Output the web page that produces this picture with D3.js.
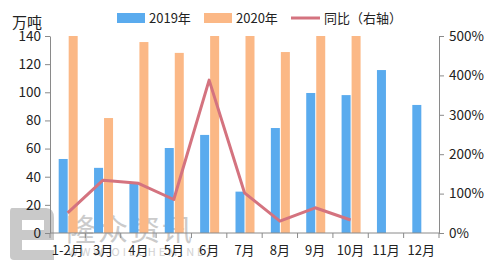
<!DOCTYPE html>
<html>
<head>
<meta charset="utf-8">
<script src="https://cdn.jsdelivr.net/npm/d3@7"></script>
<style>
  body { margin: 0; background: #fff; }
  svg text { font-family: "Noto Sans CJK SC", "Noto Sans", sans-serif; fill: #222; }
  .axis path, .axis line { stroke: #8a8a8a; }
</style>
</head>
<body>
<div id="chart"></div>
<script>
// data
const months = ["1-2月", "3月", "4月", "5月", "6月", "7月", "8月", "9月", "10月", "11月", "12月"];
const y2019 = [52.6, 46.3, 35.4, 60.4, 69.7, 29.4, 74.6, 99.5, 98, 115.8, 91];
const y2020 = [150, 81.7, 135.7, 128, 150, 150, 128.6, 150, 150, null, null];
const yoy = [51, 134, 126, 85, 388, 102, 30, 64, 33, null, null];
const leftTicks = [0, 20, 40, 60, 80, 100, 120, 140];
const rightTicks = [0, 100, 200, 300, 400, 500];

const W = 492, H = 265;
const margin = { top: 36, right: 53, bottom: 32, left: 50 };
const width = W - margin.left - margin.right;
const height = H - margin.top - margin.bottom;

const svg = d3.select("#chart").append("svg")
    .attr("width", W)
    .attr("height", H);

// watermark (sits behind the chart)
const wm = svg.append("g").attr("fill", "#c9c9c9");
wm.append("path")
    .attr("d", "M12,208 Q10,208 10,212 V256 Q10,260 14,260 H54 V250 H22 V240 H54 V218 Q54,208 46,208 Z M22,220 H44 V230 H22 Z");
wm.append("text")
    .attr("x", 66).attr("y", 240)
    .style("font-size", "30px")
    .style("fill", "#cbcbcb")
    .style("letter-spacing", "2px")
    .text("隆众资讯");
wm.append("text")
    .attr("x", 68).attr("y", 256)
    .style("font-size", "11px")
    .style("fill", "#d2d2d2")
    .style("letter-spacing", "3px")
    .text("WWW.OILCHEM.NET");

const g = svg.append("g")
    .attr("transform", `translate(${margin.left},${margin.top})`);

// scales
const x = d3.scaleBand().domain(months).range([0, width]);
const xSub = d3.scaleBand().domain(["2019", "2020"]).range([-9, 10]).paddingInner(0.1);
const yL = d3.scaleLinear().domain([0, 140]).range([height, 0]);
const yR = d3.scaleLinear().domain([0, 500]).range([height, 0]);

const colors = { "2019": "#5aabee", "2020": "#fbb886", line: "#d4737f" };

g.append("clipPath").attr("id", "plotclip")
    .append("rect").attr("x", 0).attr("y", 0).attr("width", width).attr("height", height);

const bars = g.append("g").attr("clip-path", "url(#plotclip)");

bars.selectAll(".b19")
    .data(months.map((m, i) => ({ m, v: y2019[i] })))
    .join("rect")
    .attr("class", "b19")
    .attr("x", d => x(d.m) + x.bandwidth() / 2 + xSub("2019"))
    .attr("width", xSub.bandwidth())
    .attr("y", d => yL(d.v))
    .attr("height", d => height - yL(d.v))
    .attr("fill", colors["2019"]);

bars.selectAll(".b20")
    .data(months.map((m, i) => ({ m, v: y2020[i] })).filter(d => d.v != null))
    .join("rect")
    .attr("class", "b20")
    .attr("x", d => x(d.m) + x.bandwidth() / 2 + xSub("2020"))
    .attr("width", xSub.bandwidth())
    .attr("y", d => yL(d.v))
    .attr("height", d => height - yL(d.v))
    .attr("fill", colors["2020"]);

// 同比 line on the right axis
const lineData = months.map((m, i) => ({ m, v: yoy[i] })).filter(d => d.v != null);
g.append("path")
    .datum(lineData)
    .attr("fill", "none")
    .attr("stroke", colors.line)
    .attr("stroke-width", 3)
    .attr("stroke-linejoin", "round")
    .attr("d", d3.line().x(d => x(d.m) + x.bandwidth() / 2).y(d => yR(d.v)));

// axes
const xAxis = g.append("g")
    .attr("class", "axis")
    .attr("transform", `translate(0,${height})`)
    .call(d3.axisBottom(x).tickSize(0).tickPadding(10));
xAxis.select(".domain").attr("d", `M0,0H${width}`);
xAxis.selectAll(".bound")
    .data(d3.range(months.length + 1))
    .join("line")
    .attr("class", "bound")
    .attr("x1", i => i * x.step()).attr("x2", i => i * x.step())
    .attr("y1", 0).attr("y2", 5)
    .attr("stroke", "#8a8a8a");
xAxis.selectAll("text").style("font-size", "13px").attr("dy", "0.9em");

const yAxisL = g.append("g")
    .attr("class", "axis")
    .call(d3.axisLeft(yL).tickValues(leftTicks).tickSize(5).tickSizeOuter(0).tickPadding(4));
yAxisL.selectAll("text").style("font-size", "13.5px");

const yAxisR = g.append("g")
    .attr("class", "axis")
    .attr("transform", `translate(${width},0)`)
    .call(d3.axisRight(yR).tickValues(rightTicks).tickSize(5).tickSizeOuter(0).tickPadding(5)
        .tickFormat(d => d + "%"));
yAxisR.selectAll("text").style("font-size", "13.5px");

g.selectAll(".axis .domain").attr("stroke", "#8a8a8a");

// unit label
svg.append("text")
    .attr("x", 12).attr("y", 28)
    .style("font-size", "15px")
    .text("万吨");

// legend
const leg = svg.append("g");
leg.append("rect").attr("x", 117).attr("y", 13).attr("width", 28).attr("height", 10).attr("fill", colors["2019"]);
leg.append("text").attr("x", 149).attr("y", 23).style("font-size", "13px").text("2019年");
leg.append("rect").attr("x", 204).attr("y", 13).attr("width", 28).attr("height", 10).attr("fill", colors["2020"]);
leg.append("text").attr("x", 236).attr("y", 23).style("font-size", "13px").text("2020年");
leg.append("line").attr("x1", 291).attr("x2", 320).attr("y1", 18).attr("y2", 18)
    .attr("stroke", colors.line).attr("stroke-width", 3);
leg.append("text").attr("x", 324).attr("y", 23).style("font-size", "13px").text("同比（右轴）");
</script>
</body>
</html>
